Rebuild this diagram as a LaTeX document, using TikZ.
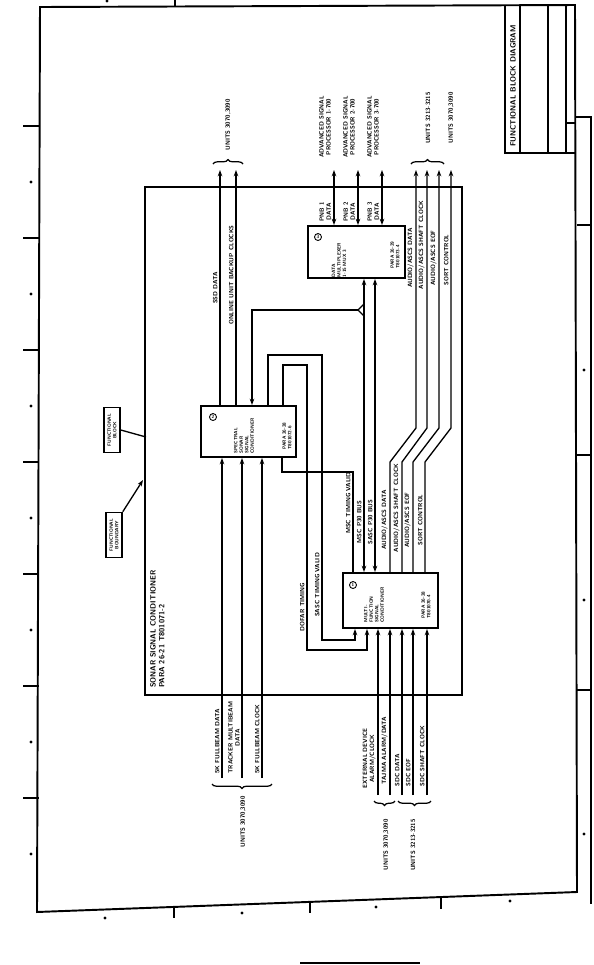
\documentclass[tikz,border=0pt]{standalone}
\usepackage{tikz}
\usetikzlibrary{arrows.meta,decorations.pathreplacing,positioning}
\newcommand{\lblfont}{\fontsize{3.5}{4}\selectfont\sffamily\bfseries}
\newcommand{\blkfont}{\fontsize{2.7}{3.1}\selectfont\sffamily\bfseries}
\newcommand{\ttlfont}{\fontsize{4.3}{5}\selectfont\sffamily\bfseries}
\tikzset{
  sig/.style={line width=0.75pt},
  into/.style={sig,-{Stealth[length=3.6pt,width=2.6pt]}},
  both/.style={sig,{Stealth[length=3.6pt,width=2.6pt]}-{Stealth[length=3.6pt,width=2.6pt]}},
  blk/.style={draw,line width=1.1pt,inner sep=0pt},
  lbl/.style={font=\lblfont,rotate=90,anchor=south,inner sep=0.6pt,align=center},
  unt/.style={font=\lblfont,rotate=90,inner sep=0pt,align=center},
  btxt/.style={font=\blkfont,rotate=90,inner sep=0pt,align=left},
  num/.style={draw,circle,line width=0.5pt,inner sep=0pt,minimum size=0.14cm,font=\blkfont},
  brc/.style={decorate,decoration={brace,amplitude=2.5pt},line width=0.7pt},
  callout/.style={draw,line width=0.9pt,inner sep=1.5pt,rotate=90,align=center,font=\blkfont,minimum width=0.9cm,minimum height=0.32cm},
  frame/.style={line width=1.1pt}
}

\begin{document}
\begin{tikzpicture}[x=0.02cm,y=-0.02cm]
\fill[white] (0,0) rectangle (594,965);
\useasboundingbox (0,0) rectangle (594,965);

% sheet border and margin marks
\draw[frame] (40,7) -- (575,5) -- (577,892) -- (37,912) -- cycle;
\draw[frame] (575,117) -- (591,117) -- (591,904);
\draw[frame] (175,0) -- (175,6);
\foreach \y in {126,238,350,462,574,686,798} \draw[frame] (23,\y) -- (39,\y);
\foreach \y in {182,294,406,518,630,742,854} \fill (31,\y) circle (0.9pt);
\foreach \x/\y in {174/907,310/902,441/898} \draw[frame] (\x,\y) -- (\x,\y+11);
\foreach \x/\y in {105/918,242/913,376/907,510/901} \fill (\x,\y) circle (0.9pt);
\foreach \y in {225,455,690} \draw[frame] (577,\y) -- (591,\y);
\foreach \y in {370,600,834} \fill (584,\y) circle (0.9pt);
\fill (107,1) circle (0.9pt);
\draw[frame] (300,963) -- (420,963);

% title block
\draw[frame] (505,6) -- (505,153) -- (576,153);
\foreach \x in {520,548,566} \draw[line width=0.7pt] (\x,6) -- (\x,153);
\draw[line width=0.7pt] (566,123) -- (576,123);
\node[font=\ttlfont,rotate=90] (dwgttl) at (513,86) {FUNCTIONAL BLOCK DIAGRAM};

% functional boundary
\node[draw,line width=1pt,minimum width=6.34cm,minimum height=10.16cm,inner sep=0pt] (bnd) at (303.5,441) {};
\node[font=\ttlfont,rotate=90,anchor=north west,align=left,inner sep=1pt] (bndttl) at (148,690) {SONAR SIGNAL CONDITIONER\\PARA 26-21 T801071-2};

% blocks
\node[blk,minimum width=1.94cm,minimum height=1.04cm] (mux) at (356.5,252) {};
\node[num] (muxno) at (318,237) {3};
\node[btxt] (muxtxt) at (339,260) {DATA\\MULTIPLEXER\\1-15 MUX 3};
\node[btxt] (muxref) at (395,255) {PARA 26-29\\T801073-4};

\node[blk,minimum width=1.9cm,minimum height=1.02cm] (ssc) at (248.5,431.5) {};
\node[num] (sscno) at (213,417) {2};
\node[btxt] (ssctxt) at (244,436) {SPECTRAL\\SONAR\\SIGNAL\\CONDITIONER};
\node[btxt] (sscref) at (287,436) {PARA 26-28\\T801072-6};

\node[blk,minimum width=1.9cm,minimum height=1.1cm] (mfsc) at (390.5,600.5) {};
\node[num] (mfscno) at (353,585) {1};
\node[btxt] (mfsctxt) at (374,605) {MULTI-\\FUNCTION\\SIGNAL\\CONDITIONER};
\node[btxt] (mfscref) at (426,605) {PARA 26-28\\T801070-4};

% callouts
\node[callout] (cblk) at (112,430) {FUNCTIONAL\\BLOCK};
\coordinate (cblkend) at (146,437);
\draw[sig] (cblk.south) -- (cblkend);
\node[callout] (cbnd) at (114,535) {FUNCTIONAL\\BOUNDARY};
\coordinate (cbndend) at (143,480);
\draw[into] (cbnd.south east) -- (cbndend);

% spectral conditioner outputs
\coordinate (ssdout) at (220,170);
\coordinate (bkout) at (236,170);
\draw[into] (ssdout |- ssc.north) -- (ssdout);
\draw[into] (bkout |- ssc.north) -- (bkout);
\node[lbl] at (219,288) {SSD DATA};
\node[lbl] at (235,275) {ONLINE UNIT BACKUP CLOCKS};
\draw[brc] (213,164) -- (243,164);
\node[unt] at (228,125) {UNITS 3070,3090};

% spectral conditioner inputs
\coordinate (fbdata) at (222,778);
\coordinate (trkdata) at (242,778);
\coordinate (fbclk) at (262,778);
\foreach \c in {fbdata,trkdata,fbclk} \draw[into] (\c) -- (\c |- ssc.south);
\node[lbl,anchor=south west] at (221,775) {5K FULLBEAM DATA};
\node[lbl,anchor=south west] at (241,775) {TRACKER MULTIBEAM\\DATA};
\node[lbl,anchor=south west] at (261,775) {5K FULLBEAM CLOCK};
\draw[brc] (272,784) -- (212,784);
\node[unt] at (243,822) {UNITS 3070,3090};

% multiplexer to signal processors
\coordinate (asp1) at (334,170);
\coordinate (asp2) at (358,170);
\coordinate (asp3) at (382,170);
\foreach \c/\n in {asp1/1,asp2/2,asp3/3} {
  \draw[both] (\c |- mux.north) -- (\c);
  \node[lbl] at ([xshift=-1]\c |- 0,127) {ADVANCED SIGNAL\\PROCESSOR \n-700};
  \node[lbl] at ([xshift=-1]\c |- 0,212) {PNB \n\\DATA};
}

% P30 buses
\path (mux.south) ++(7.5,0) coordinate (mscbus) ++(11,0) coordinate (sascbus);
\draw[both] (mscbus) -- (mscbus |- mfsc.north);
\draw[both] (sascbus) -- (sascbus |- mfsc.north);
\coordinate (fork) at (358,310);
\draw[into] (fork) -| (252,0 |- ssc.north);
\draw[sig] (mscbus |- 0,304) -- (fork) -- (mscbus |- 0,316);

% timing lines
\draw[sig] (282,0 |- ssc.south) -- (282,472) -| (353,0 |- mfsc.north);
\draw[into] (283,0 |- ssc.north) |- (307,365) |- (367,650) -- (367,0 |- mfsc.south);
\draw[into] (268,0 |- ssc.north) |- (322,355) |- (355,640) -- (355,0 |- mfsc.south);
\node[lbl] at (352,503) {MSC TIMING VALID};
\node[lbl] at (363,522) {MSC P30 BUS};
\node[lbl] at (374,522) {SASC P30 BUS};
\node[lbl] at (306,607) {DOFAR TIMING};
\node[lbl] at (321,585) {SASC TIMING VALID};

% audio outputs
\coordinate (audd) at (416,170);
\coordinate (auds) at (427,170);
\coordinate (aude) at (439,170);
\coordinate (sortc) at (451,170);
\foreach \x/\c in {390/audd,402/auds,413/aude,425/sortc}
  \draw[into] (\x,0 |- mfsc.north) -- (\x,462) -- (\c |- 0,428) -- (\c);
\node[lbl] at (415,258) {AUDIO/ASCS DATA};
\node[lbl] at (426,245) {AUDIO/ASCS SHAFT CLOCK};
\node[lbl] at (438,258) {AUDIO/ASCS EOF};
\node[lbl] at (450,260) {SORT CONTROL};
\node[lbl] at (389,520) {AUDIO/ASCS DATA};
\node[lbl] at (401,508) {AUDIO/ASCS SHAFT CLOCK};
\node[lbl] at (412,520) {AUDIO/ASCS EOF};
\node[lbl] at (424,520) {SORT CONTROL};
\draw[brc] (411,164) -- (444,164);
\node[unt] at (428,118) {UNITS 3213-3215};
\node[unt] at (451,118) {UNITS 3070,3090};

% multi-function conditioner inputs
\coordinate (extdev) at (378,795);
\coordinate (tajma) at (390,795);
\coordinate (sdcdata) at (402,795);
\coordinate (sdceof) at (413,795);
\coordinate (sdcclk) at (427,795);
\foreach \c in {extdev,tajma,sdcdata,sdceof,sdcclk} \draw[into] (\c) -- (\c |- mfsc.south);
\node[lbl,anchor=south west] at (377,790) {EXTERNAL DEVICE\\ALARM/CLOCK};
\node[lbl,anchor=south west] at (389,786) {TAJMA ALARM/DATA};
\node[lbl,anchor=south west] at (401,788) {SDC DATA};
\node[lbl,anchor=south west] at (412,788) {SDC EOF};
\node[lbl,anchor=south west] at (426,788) {SDC SHAFT CLOCK};
\draw[brc] (395,801) -- (374,801);
\draw[brc] (431,801) -- (398,801);
\node[unt] at (386,845) {UNITS 3070,3090};
\node[unt] at (413,845) {UNITS 3213-3215};
\end{tikzpicture}
\end{document}
